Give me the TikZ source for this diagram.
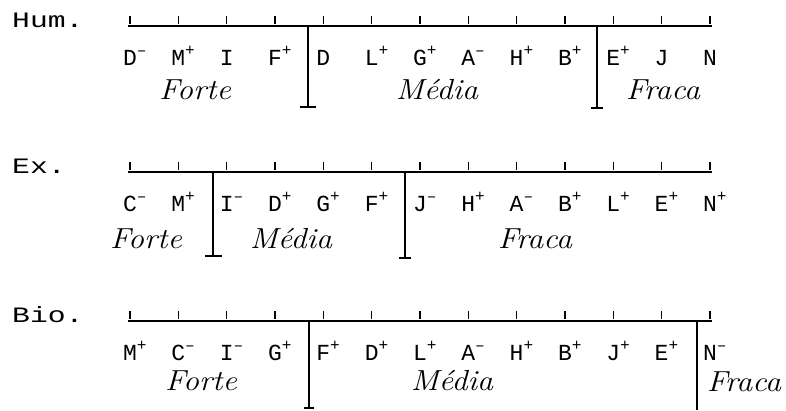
\documentclass[tikz,border=0pt]{standalone}
\usepackage{fontspec}
\newfontfamily\titfont[FakeStretch=1.35]{Liberation Mono}
\newfontfamily\labfont{Liberation Mono}
\newfontfamily\wordfont[FakeStretch=1.1]{Latin Modern Roman}
\newcommand\spp{\rlap{\textsuperscript{+}}}
\newcommand\spm{\rlap{\textsuperscript{–}}}
\tikzset{
  axis/.style={line width=1.8pt},
  tickmark/.style={line width=1.4pt},
  divider/.style={line width=1.2pt},
  rowtitle/.style={anchor=base west, inner sep=0pt, font=\titfont\fontsize{22}{22}\selectfont},
  lab/.style={anchor=base, inner sep=0pt, font=\labfont\fontsize{23}{23}\selectfont},
  word/.style={anchor=base, inner sep=0pt, font=\wordfont\itshape\fontsize{29}{29}\selectfont},
}
\newcommand\drawrow[3]{%
  \draw[axis] (128,#1) -- (712,#1);
  \foreach \ti in {0,...,12} \draw[tickmark] ({130+48.33*\ti},#1-10) -- ++(0,8);
  \foreach \ltr/\spx [count=\ti from 0] in {#3}
    \node[lab] (#2\ti) at ({130+48.33*\ti},#1+39) {\ltr\spx};
}
\begin{document}
\begin{tikzpicture}[x=1pt,y=-1pt]
\useasboundingbox (0,0) rectangle (786,410);
% row 1
\node[rowtitle] (hum) at (12,27) {Hum.};
\drawrow{26}{a}{D/\spm,M/\spp,I/,F/\spp,D/,L/\spp,G/\spp,A/\spm,H/\spp,B/\spp,E/\spp,J/,N/}
\draw[divider] (308,26) -- (308,107) (300,107) -- (316,107);
\draw[divider] (597,26) -- (597,108) (591,108) -- (603,108);
\node[word] (forte1) at (195,99) {Forte};
\node[word] (media1) at (437,99) {Média};
\node[word] (fraca1) at (663,99) {Fraca};
% row 2
\node[rowtitle] (ex) at (12,173) {Ex.};
\drawrow{172}{b}{C/\spm,M/\spp,I/\spm,D/\spp,G/\spp,F/\spp,J/\spm,H/\spp,A/\spm,B/\spp,L/\spp,E/\spp,N/\spp}
\draw[divider] (213,172) -- (213,256) (205,256) -- (222,256);
\draw[divider] (405,172) -- (405,258) (399,258) -- (411,258);
\node[word] (forte2) at (146,248) {Forte};
\node[word] (media2) at (291,248) {Média};
\node[word] (fraca2) at (535,248) {Fraca};
% row 3
\node[rowtitle] (bio) at (12,322) {Bio.};
\drawrow{321}{c}{M/\spp,C/\spm,I/\spm,G/\spp,F/\spp,D/\spp,L/\spp,A/\spm,H/\spp,B/\spp,J/\spp,E/\spp,N/\spm}
\draw[divider] (309,321) -- (309,408) (304,408) -- (314,408);
\draw[divider] (697,321) -- (697,410);
\node[word] (forte3) at (201,390) {Forte};
\node[word] (media3) at (452,390) {Média};
\node[word] (fraca3) at (744,391) {Fraca};
\end{tikzpicture}
\end{document}
